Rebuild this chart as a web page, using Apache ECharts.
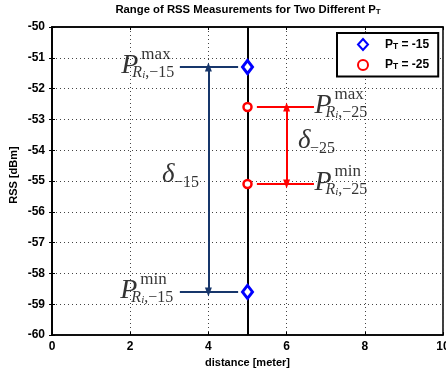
<!DOCTYPE html>
<html>
<head>
<meta charset="utf-8">
<style>
  html, body { margin: 0; padding: 0; background: #fff; }
  #chart { width: 446px; height: 371px; }
</style>
<script src="https://cdn.jsdelivr.net/npm/echarts@6.0.0/dist/echarts.min.js"></script>
</head>
<body>
<div id="chart"></div>
<script>
// Measurement location and the RSS extremes (max, min) at each transmit power
const distance = 5;
const rssPt15 = [-51.3, -58.6];   // P_T = -15: [max, min]
const rssPt25 = [-52.6, -55.1];   // P_T = -25: [max, min]

// Leader lines running from the labels toward the markers
const leaderPt15 = [3.27, 4.76];
const leaderPt25 = [5.24, 6.7];
// Double-arrow positions marking the spread delta
const arrowX = [4, 6];

// Axis ranges and ticks
const xTicks = [0, 2, 4, 6, 8, 10];
const yTicks = [-60, -59, -58, -57, -56, -55, -54, -53, -52, -51, -50];

const NAVY = '#17366b';
const RED = '#ff0000';
const BLUE = '#0000ff';
const SERIF = '"Liberation Serif", "Times New Roman", serif';
const SANS = '"Liberation Sans", Arial, Helvetica, sans-serif';

const chart = echarts.init(document.getElementById('chart'), null, { renderer: 'canvas' });

// Rich styles for the math annotations
const mathRich = {
  P:   { fontFamily: SERIF, fontStyle: 'italic', fontSize: 28, color: '#000' },
  sup: { fontFamily: SERIF, fontSize: 17, color: '#000' },
  r:   { fontFamily: SERIF, fontStyle: 'italic', fontSize: 16, lineHeight: 16, color: '#000' },
  i:   { fontFamily: SERIF, fontStyle: 'italic', fontSize: 11, lineHeight: 11, verticalAlign: 'bottom', color: '#000' },
  n:   { fontFamily: SERIF, fontSize: 16, lineHeight: 16, color: '#000' },
  d:   { fontFamily: SERIF, fontStyle: 'italic', fontSize: 27, color: '#000' }
};

function textItem(x, y, text, dx, dy) {
  return {
    value: [x, y],
    label: {
      show: true,
      position: [dx, dy],
      align: 'left',
      verticalAlign: 'middle',
      formatter: text,
      rich: mathRich
    }
  };
}

// P^{sup}_{R_i, power} placed relative to an anchor point (px = left of P)
function powerLabel(x, y, px, sup, power) {
  return [
    textItem(x, y, '{P|P}', px, -1),
    textItem(x, y, '{sup|' + sup + '}', px + 20, -12),
    textItem(x, y, '{r|R}{i|i}{n|,\u2212' + power + '}', px + 11, 6)
  ];
}

function deltaLabel(x, y, px, power) {
  return [
    textItem(x, y, '{d|\u03b4}', px, -4),
    textItem(x, y, '{n|\u2212' + power + '}', px + 12, 4)
  ];
}

const annotationData = [].concat(
  powerLabel(leaderPt15[0], rssPt15[0], -58, 'max', '15'),
  powerLabel(leaderPt15[0], rssPt15[1], -59, 'min', '15'),
  powerLabel(leaderPt25[1], rssPt25[0], 1, 'max', '25'),
  powerLabel(leaderPt25[1], rssPt25[1], 1, 'min', '25'),
  deltaLabel(arrowX[0], (rssPt15[0] + rssPt15[1]) / 2, -46, '15'),
  deltaLabel(arrowX[1], (rssPt25[0] + rssPt25[1]) / 2, 12, '25')
);

function segment(x0, x1, y, color) {
  return [{ coord: [x0, y], lineStyle: { color: color, width: 2, type: 'solid' } }, { coord: [x1, y] }];
}

const axisText = { color: '#000', fontFamily: SANS, fontWeight: 'bold', fontSize: 12 };
const dotted = { color: '#444', width: 1, type: [1, 3] };

const option = {
  animation: false,
  backgroundColor: '#fff',
  title: {
    text: '{a|Range of RSS Measurements for Two Different P}{s|T}',
    left: 243,
    textAlign: 'center',
    top: -2,
    textStyle: {
      rich: {
        a: { fontFamily: SANS, fontWeight: 'bold', fontSize: 11.3, lineHeight: 13, color: '#000' },
        s: { fontFamily: SANS, fontWeight: 'bold', fontSize: 8, lineHeight: 8, verticalAlign: 'bottom', color: '#000' }
      }
    }
  },
  legend: {
    orient: 'vertical',
    left: 337,
    top: 33,
    padding: [5, 9, 5, 20],
    itemGap: 8,
    itemWidth: 10,
    itemHeight: 11,
    backgroundColor: '#fff',
    borderColor: '#000',
    borderWidth: 2,
    borderRadius: 0,
    data: ['P_T = -15', 'P_T = -25'],
    formatter: function (name) {
      return '{p|P}{t|T}{v|' + name.slice(3) + '}';
    },
    textStyle: {
      padding: [0, 0, 0, 12],
      rich: {
        p: { fontFamily: SANS, fontWeight: 'bold', fontSize: 12, lineHeight: 13, color: '#000' },
        t: { fontFamily: SANS, fontWeight: 'bold', fontSize: 8.5, lineHeight: 9, verticalAlign: 'bottom', color: '#000' },
        v: { fontFamily: SANS, fontWeight: 'bold', fontSize: 12, lineHeight: 13, color: '#000' }
      }
    }
  },
  grid: {
    left: 52, right: 3, top: 27, bottom: 36,
    containLabel: false,
    outerBoundsMode: 'none',
    show: true, borderColor: '#000', borderWidth: 1.5, backgroundColor: '#fff'
  },
  xAxis: [{
    type: 'value', min: xTicks[0], max: xTicks[xTicks.length - 1], interval: 2,
    name: 'distance [meter]', nameLocation: 'middle', nameGap: 19,
    nameTextStyle: { color: '#000', fontFamily: SANS, fontWeight: 'bold', fontSize: 11 },
    axisLine: { show: true, lineStyle: { color: '#000', width: 1.5 } },
    axisTick: { show: true, inside: true, length: 3, lineStyle: { color: '#000' } },
    axisLabel: Object.assign({ margin: 6, hideOverlap: false }, axisText),
    splitLine: { show: true, lineStyle: dotted }
  }, {
    type: 'value', position: 'top', min: xTicks[0], max: xTicks[xTicks.length - 1], interval: 2,
    axisLine: { show: true, lineStyle: { color: '#000', width: 1.5 } },
    axisTick: { show: true, inside: true, length: 3, lineStyle: { color: '#000' } },
    axisLabel: { show: false }, splitLine: { show: false }
  }],
  yAxis: [{
    type: 'value', min: yTicks[0], max: yTicks[yTicks.length - 1], interval: 1,
    name: 'RSS [dBm]', nameLocation: 'middle', nameGap: 33, nameMoveOverlap: false,
    nameTextStyle: { color: '#000', fontFamily: SANS, fontWeight: 'bold', fontSize: 11, padding: [0, 0, 0, 12] },
    axisLine: { show: true, lineStyle: { color: '#000', width: 1.5 } },
    axisTick: { show: true, inside: true, length: 3, lineStyle: { color: '#000' } },
    axisLabel: Object.assign({ margin: 7 }, axisText),
    splitLine: { show: true, lineStyle: dotted }
  }, {
    type: 'value', position: 'right', min: yTicks[0], max: yTicks[yTicks.length - 1], interval: 1,
    axisLine: { show: true, lineStyle: { color: '#000', width: 1.5 } },
    axisTick: { show: true, inside: true, length: 3, lineStyle: { color: '#000' } },
    axisLabel: { show: false }, splitLine: { show: false }
  }],
  series: [
    {
      // vertical reference line at the measurement distance, plus the leader lines
      type: 'line', data: [], silent: true, z: 2,
      markLine: {
        silent: true, animation: false,
        symbol: 'none',
        label: { show: false },
        data: [
          segment(distance, distance, 0, '#000').map((p, k) => Object.assign(p, { coord: [distance, yTicks[k === 0 ? 0 : yTicks.length - 1]] })),
          segment(leaderPt15[0], leaderPt15[1], rssPt15[0], NAVY),
          segment(leaderPt15[0], leaderPt15[1], rssPt15[1], NAVY),
          segment(leaderPt25[0], leaderPt25[1], rssPt25[0], RED),
          segment(leaderPt25[0], leaderPt25[1], rssPt25[1], RED)
        ]
      }
    },
    {
      // double arrows spanning each RSS range
      type: 'line', data: [], silent: true, z: 3,
      markLine: {
        silent: true, animation: false,
        symbol: ['triangle', 'triangle'],
        symbolSize: [7, 9],
        label: { show: false },
        data: [
          [{ coord: [arrowX[0], rssPt15[0]], lineStyle: { color: NAVY, width: 2, type: 'solid' }, itemStyle: { color: NAVY } },
           { coord: [arrowX[0], rssPt15[1]] }],
          [{ coord: [arrowX[1], rssPt25[0]], lineStyle: { color: RED, width: 2, type: 'solid' }, itemStyle: { color: RED } },
           { coord: [arrowX[1], rssPt25[1]] }]
        ]
      }
    },
    {
      name: 'P_T = -15', type: 'scatter', z: 5,
      data: rssPt15.map(v => [distance, v]),
      symbol: 'diamond', symbolSize: [10, 13],
      itemStyle: { color: '#fff', borderColor: BLUE, borderWidth: 3, opacity: 1 }
    },
    {
      name: 'P_T = -25', type: 'scatter', z: 5,
      data: rssPt25.map(v => [distance, v]),
      symbol: 'circle', symbolSize: 8,
      itemStyle: { color: '#fff', borderColor: RED, borderWidth: 2.5, opacity: 1 }
    },
    {
      // math annotations
      type: 'scatter', silent: true, z: 6,
      symbol: 'circle', symbolSize: 1,
      itemStyle: { color: 'rgba(0,0,0,0)' },
      data: annotationData
    }
  ]
};

chart.setOption(option);
</script>
</body>
</html>
